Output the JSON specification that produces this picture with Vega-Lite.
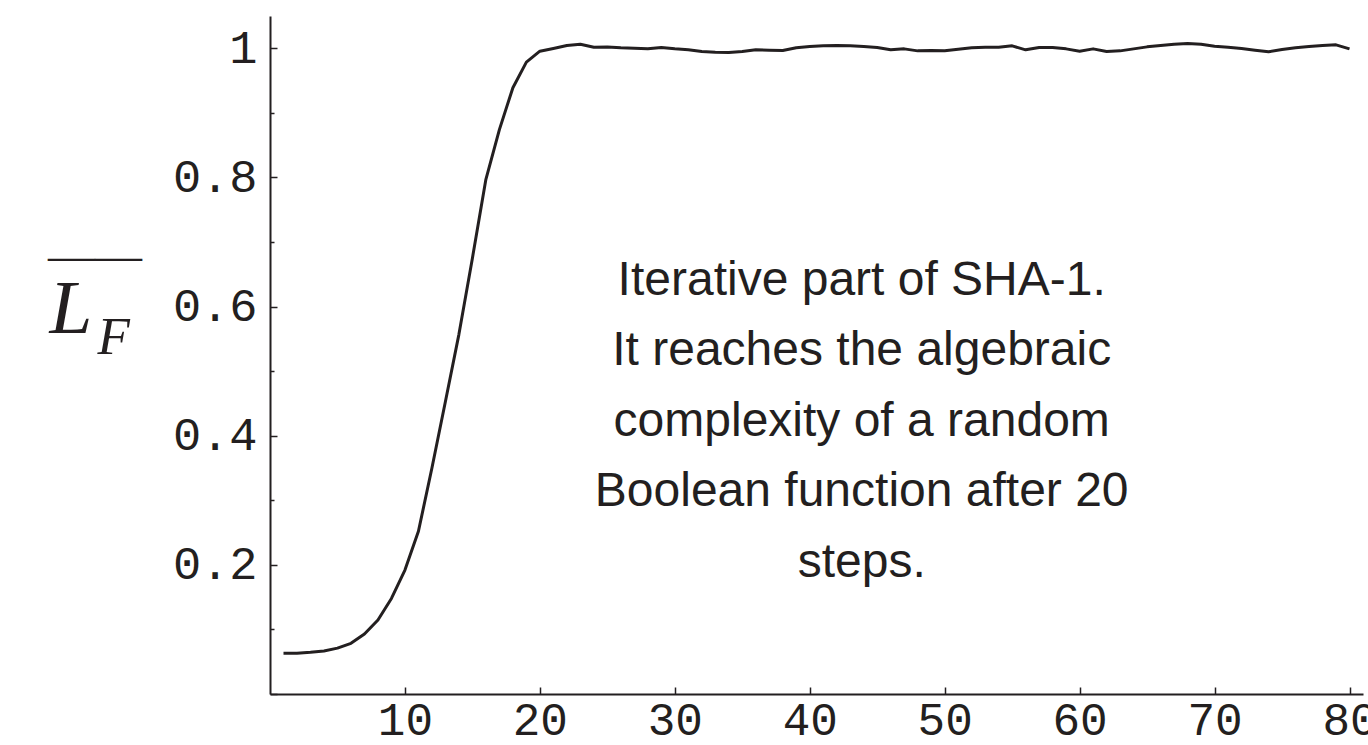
{
  "$schema": "https://vega.github.io/schema/vega-lite/v6.json",
  "width": 1093,
  "height": 678,
  "autosize": {"type": "none"},
  "padding": {"left": 270, "top": 16, "right": 5, "bottom": 51},
  "background": "white",
  "config": {"view": {"stroke": null}},
  "title": {"text": "——", "font": "Liberation Serif", "fontSize": 47, "fontWeight": "normal", "color": "#231f20", "anchor": "start", "frame": "group", "baseline": "alphabetic", "offset": 0, "dx": -222, "dy": 302},
  "layer": [
    {
      "data": {"values": [
        {"step": 1, "LF": 0.063}, {"step": 2, "LF": 0.063}, {"step": 3, "LF": 0.0646}, {"step": 4, "LF": 0.0667},
        {"step": 5, "LF": 0.071}, {"step": 6, "LF": 0.0785}, {"step": 7, "LF": 0.093}, {"step": 8, "LF": 0.1147},
        {"step": 9, "LF": 0.148}, {"step": 10, "LF": 0.192}, {"step": 11, "LF": 0.252}, {"step": 12, "LF": 0.35},
        {"step": 13, "LF": 0.453}, {"step": 14, "LF": 0.557}, {"step": 15, "LF": 0.675}, {"step": 16, "LF": 0.797},
        {"step": 17, "LF": 0.874}, {"step": 18, "LF": 0.939}, {"step": 19, "LF": 0.9785}, {"step": 20, "LF": 0.9955},
        {"step": 21, "LF": 0.9997}, {"step": 22, "LF": 1.0043}, {"step": 23, "LF": 1.0063}, {"step": 24, "LF": 1.0017},
        {"step": 25, "LF": 1.002}, {"step": 26, "LF": 1.0007}, {"step": 27, "LF": 1.0002}, {"step": 28, "LF": 0.9991},
        {"step": 29, "LF": 1.0012}, {"step": 30, "LF": 0.9991}, {"step": 31, "LF": 0.9976}, {"step": 32, "LF": 0.995},
        {"step": 33, "LF": 0.994}, {"step": 34, "LF": 0.9935}, {"step": 35, "LF": 0.995}, {"step": 36, "LF": 0.9976},
        {"step": 37, "LF": 0.997}, {"step": 38, "LF": 0.9966}, {"step": 39, "LF": 1.0007}, {"step": 40, "LF": 1.0028},
        {"step": 41, "LF": 1.0038}, {"step": 42, "LF": 1.0043}, {"step": 43, "LF": 1.0038}, {"step": 44, "LF": 1.0028},
        {"step": 45, "LF": 1.0012}, {"step": 46, "LF": 0.9976}, {"step": 47, "LF": 0.9991}, {"step": 48, "LF": 0.996},
        {"step": 49, "LF": 0.9966}, {"step": 50, "LF": 0.9963}, {"step": 51, "LF": 0.9986}, {"step": 52, "LF": 1.0007},
        {"step": 53, "LF": 1.0017}, {"step": 54, "LF": 1.0017}, {"step": 55, "LF": 1.0038}, {"step": 56, "LF": 0.9976},
        {"step": 57, "LF": 1.0012}, {"step": 58, "LF": 1.0012}, {"step": 59, "LF": 0.9991}, {"step": 60, "LF": 0.9955},
        {"step": 61, "LF": 0.9991}, {"step": 62, "LF": 0.995}, {"step": 63, "LF": 0.996}, {"step": 64, "LF": 0.9991},
        {"step": 65, "LF": 1.0022}, {"step": 66, "LF": 1.0043}, {"step": 67, "LF": 1.0063}, {"step": 68, "LF": 1.0074},
        {"step": 69, "LF": 1.0063}, {"step": 70, "LF": 1.0033}, {"step": 71, "LF": 1.0017}, {"step": 72, "LF": 0.9997},
        {"step": 73, "LF": 0.997}, {"step": 74, "LF": 0.9945}, {"step": 75, "LF": 0.9981}, {"step": 76, "LF": 1.0007},
        {"step": 77, "LF": 1.0028}, {"step": 78, "LF": 1.0043}, {"step": 79, "LF": 1.0053}, {"step": 80, "LF": 0.9991}
      ]},
      "mark": {"type": "line", "color": "#231f20", "strokeWidth": 3, "interpolate": "linear", "strokeJoin": "round"},
      "encoding": {
        "x": {
          "field": "step", "type": "quantitative",
          "scale": {"domain": [0, 81], "nice": false, "zero": false},
          "axis": {
            "values": [10, 20, 30, 40, 50, 60, 70, 80],
            "grid": false,
            "tickSize": -7, "tickWidth": 1.5, "tickColor": "#231f20",
            "domainColor": "#231f20", "domainWidth": 2,
            "labelFont": "Liberation Mono", "labelFontSize": 46, "labelColor": "#231f20",
            "labelPadding": 11, "labelFlush": false, "labelOverlap": false,
            "title": "F", "titleFont": "Liberation Serif", "titleFontStyle": "italic", "titleFontWeight": "normal",
            "titleFontSize": 53, "titleColor": "#231f20", "titleAngle": 0, "titleAlign": "left", "titleBaseline": "alphabetic",
            "titleX": -173, "titleY": -341
          }
        },
        "y": {
          "field": "LF", "type": "quantitative",
          "scale": {"domain": [0, 1.05], "nice": false, "zero": false},
          "axis": {
            "values": [0, 0.05, 0.1, 0.15, 0.2, 0.25, 0.3, 0.35, 0.4, 0.45, 0.5, 0.55, 0.6, 0.65, 0.7, 0.75, 0.8, 0.85, 0.9, 0.95, 1, 1.05],
            "grid": false,
            "labelExpr": "abs(datum.value*5 - round(datum.value*5)) < 0.001 && datum.value > 0.01 ? (datum.value > 0.99 ? '1' : format(datum.value, '.1f')) : ''",
            "tickSize": {"condition": {"test": "abs(datum.value*5 - round(datum.value*5)) < 0.001", "value": -7}, "value": -4},
            "tickWidth": 1.5, "tickColor": "#231f20",
            "domainColor": "#231f20", "domainWidth": 2,
            "labelFont": "Liberation Mono", "labelFontSize": 47, "labelColor": "#231f20",
            "labelPadding": 20, "labelFlush": false, "labelOverlap": false,
            "title": "L", "titleFont": "Liberation Serif", "titleFontStyle": "italic", "titleFontWeight": "normal",
            "titleFontSize": 77, "titleColor": "#231f20", "titleAngle": 0, "titleAlign": "left", "titleBaseline": "alphabetic",
            "titleX": -221, "titleY": 316.5
          }
        }
      }
    },
    {
      "data": {"values": [{"note": "annotation"}]},
      "mark": {
        "type": "text", "font": "Liberation Sans", "fontSize": 48, "align": "center", "baseline": "alphabetic",
        "lineHeight": 70.5, "color": "#231f20",
        "text": ["Iterative part of SHA-1.", "It reaches the algebraic", "complexity of a random", "Boolean function after 20", "steps."]
      },
      "encoding": {
        "x": {"datum": 43.85, "type": "quantitative"},
        "y": {"datum": 0.6186, "type": "quantitative"}
      }
    }
  ]
}
